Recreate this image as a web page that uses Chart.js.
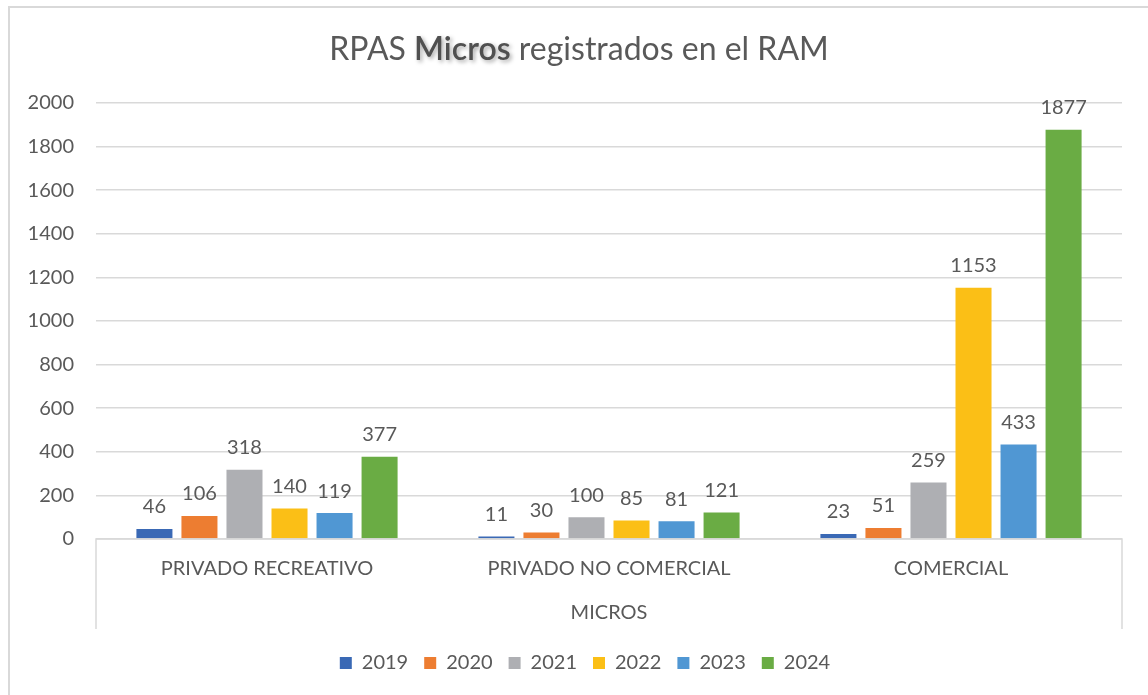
<!DOCTYPE html>
<html>
<head>
<meta charset="utf-8">
<script src="https://cdn.jsdelivr.net/npm/chart.js@4"></script>
<style>
  body { margin: 0; background: #fff; }
  #wrap { width: 1148px; height: 695px; position: relative; }
</style>
</head>
<body>
<div id="wrap"><canvas id="myChart" width="1148" height="695"></canvas></div>
<script>
let categories = ["PRIVADO RECREATIVO", "PRIVADO NO COMERCIAL", "COMERCIAL"];
let groupLabel = "MICROS";
let years = ["2019", "2020", "2021", "2022", "2023", "2024"];

let v2019 = [46, 11, 23];
let v2020 = [106, 30, 51];
let v2021 = [318, 100, 259];
let v2022 = [140, 85, 1153];
let v2023 = [119, 81, 433];
let v2024 = [377, 121, 1877];

let yTicks = [0, 200, 400, 600, 800, 1000, 1200, 1400, 1600, 1800, 2000];

let colors = ["#3a69b5", "#ed7d31", "#aeafb3", "#fbbf16", "#5097d3", "#6aac44"];

const textColor = "#595959";
const lineColor = "#d9d9d9";
const fontFamily = "Lato, 'Open Sans', sans-serif";

// title with the darker, shadowed "Micros" word
const titlePlugin = {
  id: "mixedTitle",
  afterDraw(chart) {
    let ctx = chart.ctx;
    let parts = [
      { text: "RPAS ", color: textColor, weight: "normal", shadow: false },
      { text: "Micros", color: "#505050", weight: "600", shadow: true },
      { text: " registrados en el RAM", color: textColor, weight: "normal", shadow: false },
    ];
    ctx.save();
    ctx.textBaseline = "middle";
    let total = 0;
    for (let i = 0; i < parts.length; i++) {
      ctx.font = `${parts[i].weight} 32px ${fontFamily}`;
      parts[i].w = ctx.measureText(parts[i].text).width;
      total += parts[i].w;
    }
    let x = 579 - total / 2;
    for (let i = 0; i < parts.length; i++) {
      let p = parts[i];
      ctx.font = `${p.weight} 32px ${fontFamily}`;
      ctx.fillStyle = p.color;
      if (p.shadow) {
        ctx.shadowColor = "rgba(0,0,0,0.35)";
        ctx.shadowBlur = 4;
        ctx.shadowOffsetX = 2;
        ctx.shadowOffsetY = 2;
      } else {
        ctx.shadowColor = "transparent";
      }
      ctx.fillText(p.text, x, 50);
      x += p.w;
    }
    ctx.restore();
  },
};

// outer frame, group box under the categories and the value labels
const extrasPlugin = {
  id: "extras",
  afterLayout(chart) {
    // legend in the original sits a bit right of the canvas centre
    chart.legend.left += 24;
    chart.legend.right += 24;
  },
  beforeDraw(chart) {
    let ctx = chart.ctx;
    ctx.save();
    ctx.strokeStyle = lineColor;
    ctx.lineWidth = 2;
    ctx.beginPath();
    ctx.moveTo(9, 695);
    ctx.lineTo(9, 7);
    ctx.lineTo(1148, 7);
    ctx.stroke();
    ctx.restore();
  },
  afterDatasetsDraw(chart) {
    let ctx = chart.ctx;
    let area = chart.chartArea;
    ctx.save();
    ctx.strokeStyle = lineColor;
    ctx.lineWidth = 1.5;
    ctx.beginPath();
    ctx.moveTo(area.left, area.bottom + 90);
    ctx.lineTo(area.left, area.bottom);
    ctx.lineTo(area.right, area.bottom);
    ctx.lineTo(area.right, area.bottom + 90);
    ctx.stroke();

    ctx.fillStyle = textColor;
    ctx.font = `20px ${fontFamily}`;
    ctx.textAlign = "center";
    ctx.textBaseline = "middle";
    ctx.fillText(groupLabel, (area.left + area.right) / 2, area.bottom + 74);

    ctx.font = `20px ${fontFamily}`;
    ctx.textBaseline = "bottom";
    chart.data.datasets.forEach(function (ds, i) {
      let meta = chart.getDatasetMeta(i);
      meta.data.forEach(function (bar, j) {
        ctx.fillText(String(ds.data[j]), bar.x, bar.y - 12);
      });
    });
    ctx.restore();
  },
};

function showChart() {
  const ctx = document.getElementById("myChart").getContext("2d");

  let series = [v2019, v2020, v2021, v2022, v2023, v2024];
  let datasets = [];
  for (let i = 0; i < years.length; i++) {
    datasets.push({
      label: years[i],
      data: series[i],
      backgroundColor: colors[i],
      borderWidth: 0,
      categoryPercentage: 0.79,
      barPercentage: 0.8,
    });
  }

  const myChart = new Chart(ctx, {
    type: "bar",
    data: {
      labels: categories,
      datasets: datasets,
    },
    plugins: [titlePlugin, extrasPlugin],
    options: {
      responsive: false,
      animation: false,
      layout: {
        padding: { top: 103, right: 26, bottom: 12, left: 0 },
      },
      plugins: {
        legend: {
          position: "bottom",
          labels: {
            color: textColor,
            font: { size: 20, family: fontFamily },
            boxWidth: 12,
            boxHeight: 12,
            padding: 16,
          },
        },
        tooltip: { enabled: false },
        title: { display: false },
      },
      scales: {
        x: {
          grid: { display: false, drawTicks: false },
          border: { display: false },
          ticks: {
            color: textColor,
            font: { size: 20, family: fontFamily },
            padding: 18,
          },
          afterFit: function (scale) {
            scale.height = 98;
          },
        },
        y: {
          min: 0,
          max: 2000,
          afterBuildTicks: function (scale) {
            scale.ticks = yTicks.map(function (v) {
              return { value: v };
            });
          },
          grid: { color: lineColor, lineWidth: 1.5, drawTicks: false },
          border: { display: false },
          ticks: {
            color: textColor,
            font: { size: 20, family: fontFamily },
            padding: 22,
            callback: function (value) {
              return String(value);
            },
          },
          afterFit: function (scale) {
            scale.width = 96;
          },
        },
      },
    },
  });
}

showChart();
</script>
</body>
</html>
